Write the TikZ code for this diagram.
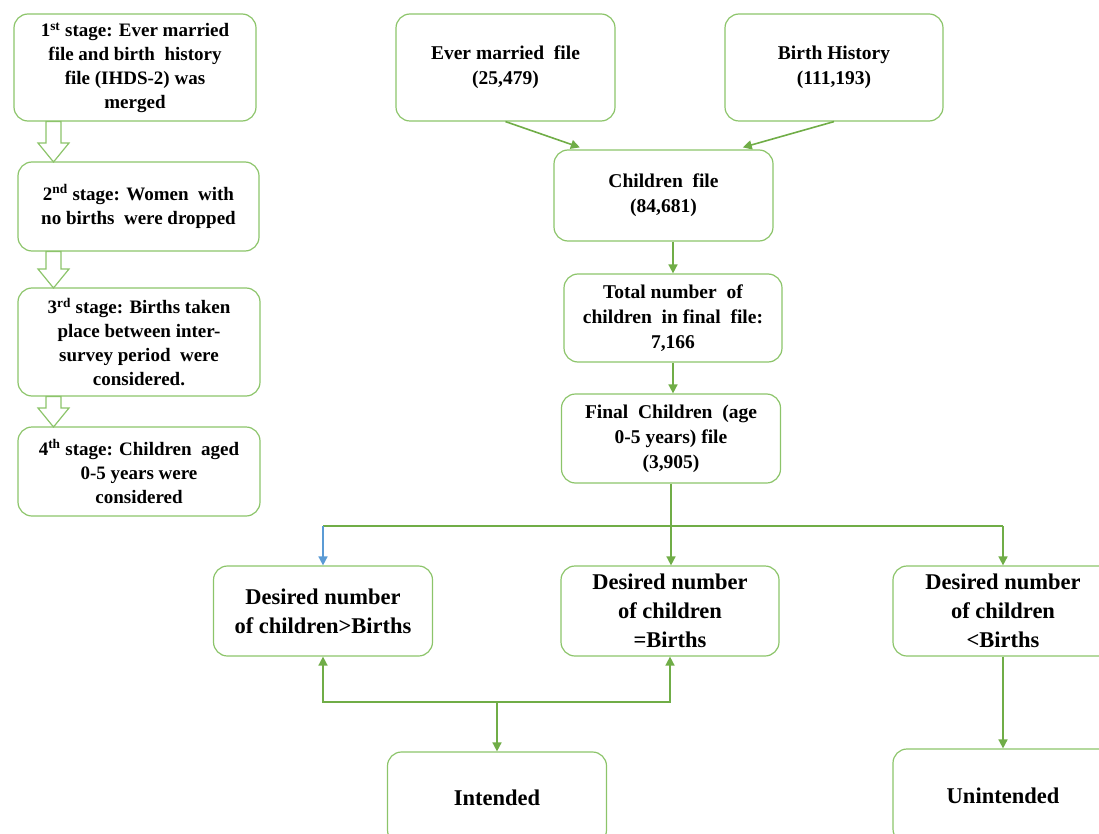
\documentclass[tikz,border=0pt]{standalone}
\usepackage{fontspec}
\setmainfont{Liberation Serif}
\usetikzlibrary{arrows.meta,calc}
\definecolor{gline}{HTML}{70AD47}
\definecolor{gbox}{HTML}{8CC46A}
\definecolor{bline}{HTML}{5B9BD5}
\newcommand{\hollowarrow}[2]{%
  \draw[hollowst] (46,#1) -- (61,#1) -- (61,#2-19) -- (69,#2-19) -- (53.5,#2) -- (38,#2-19) -- (46,#2-19) -- cycle;}
\begin{document}
\begin{tikzpicture}[x=1pt,y=-1pt,
  box/.style={draw=gbox, line width=1.2pt, rounded corners=14pt, align=center, inner sep=0pt},
  stagefont/.style={font=\fontsize{19}{24}\selectfont\bfseries},
  topfont/.style={font=\fontsize{19.5}{25}\selectfont\bfseries},
  bigfont/.style={font=\fontsize{22.5}{29}\selectfont\bfseries},
  hollowst/.style={draw=gbox, fill=white, line width=1.2pt, line join=miter},
  conn/.style={draw=gline, line width=1.6pt, -{Triangle[length=9pt,width=9pt]}},
  link/.style={draw=gline, line width=1.6pt},
]
\useasboundingbox (0,0) rectangle (1099,834);
\clip (0,0) rectangle (1099,834);

% left stage boxes
\node[box, stagefont, minimum width=242pt, minimum height=107pt] (s1) at (135,67.5)
  {1\textsuperscript{st} stage: Ever married\\ file and birth\ \ history\\ file (IHDS-2) was\\ merged};
\node[box, stagefont, minimum width=241pt, minimum height=89pt] (s2) at (138.5,206.5)
  {2\textsuperscript{nd} stage: Women\ \ with\\ no births\ \ were dropped};
\node[box, stagefont, minimum width=242pt, minimum height=108pt] (s3) at (139,342)
  {3\textsuperscript{rd} stage: Births taken\\ place between inter-\\ survey period\ \ were\\ considered.};
\node[box, stagefont, minimum width=242pt, minimum height=89pt] (s4) at (139,471.5)
  {4\textsuperscript{th} stage: Children\ \ aged\\ 0-5 years were\\ considered};

% hollow arrows
\hollowarrow{121.5}{162}
\hollowarrow{251.5}{288}
\hollowarrow{396.5}{427}

% top boxes
\node[box, topfont, minimum width=219pt, minimum height=107pt] (em) at (505.5,67.5)
  {Ever married\ \ file\\ (25,479)};
\node[box, topfont, minimum width=218pt, minimum height=107pt] (bh) at (834,67.5)
  {Birth History\\ (111,193)};
\node[box, topfont, minimum width=219pt, minimum height=91pt] (ch) at (663.5,195.5)
  {Children\ \ file\\ (84,681)};
\node[box, topfont, minimum width=218pt, minimum height=88pt] (tot) at (673,318)
  {Total number\ \ of\\ children\ \ in final\ \ file:\\ 7,166};
\node[box, topfont, minimum width=219pt, minimum height=89pt] (fin) at (671,438.5)
  {Final\ \ Children\ \ (age\\ 0-5 years) file\\ (3,905)};

% desired boxes
\node[box, bigfont, minimum width=219pt, minimum height=90pt] (dgt) at (323,611)
  {Desired number\\ of children>Births};
\node[box, bigfont, minimum width=218pt, minimum height=90pt] (deq) at (670,611)
  {Desired number\\ of children\\ =Births};
\node[box, bigfont, minimum width=220pt, minimum height=90pt] (dlt) at (1003,611)
  {Desired number\\ of children\\ <Births};

% outcome boxes
\node[box, bigfont, minimum width=219pt, minimum height=92pt] (int) at (497,798)
  {Intended};
\node[box, bigfont, minimum width=220pt, minimum height=94pt] (unint) at (1003,796)
  {Unintended};

% connectors
\draw[conn] (em.south) -- ($(ch.north west)!0.12!(ch.north east)+(0,-2)$);
\draw[conn] (bh.south) -- ($(ch.north west)!0.86!(ch.north east)+(0,-2)$);
\draw[conn] (ch.south -| tot.north) -- (tot.north);
\draw[conn] (tot.south) -- (tot.south |- fin.north);
\draw[link] (fin.south) -- ++(0,42.5) coordinate (fork);
\draw[link] (dgt.north |- fork) -- (dlt.north |- fork);
\draw[conn, draw=bline, -{Triangle[length=9pt,width=9pt,fill=bline]}] (dgt.north |- fork) -- (dgt.north);
\draw[conn] (fork) -- (fork |- deq.north);
\draw[conn] (dlt.north |- fork) -- (dlt.north);
\draw[conn, {Triangle[length=9pt,width=9pt]}-{Triangle[length=9pt,width=9pt]}]
  (dgt.south) -- ++(0,45.5) coordinate (j1) -- (j1 -| deq.south) -- (deq.south);
\draw[conn] (j1 -| int.north) -- (int.north);
\draw[conn] (dlt.south) -- (unint.north);
\end{tikzpicture}
\end{document}
